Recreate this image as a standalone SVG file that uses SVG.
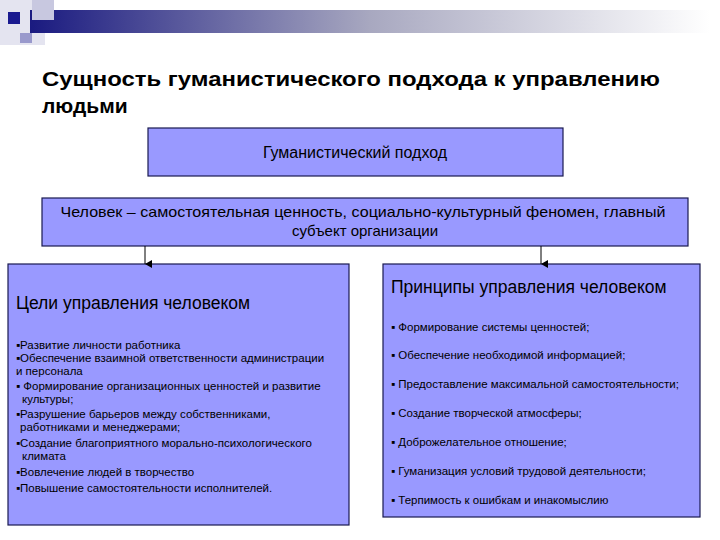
<svg xmlns="http://www.w3.org/2000/svg" width="720" height="540" viewBox="0 0 720 540">
<defs>
<linearGradient id="g" x1="0" x2="1"><stop offset="0" stop-color="#1a1a80"/><stop offset="0.5" stop-color="#a8a8c0"/><stop offset="1" stop-color="#ffffff"/></linearGradient>
<marker id="a" markerWidth="8" markerHeight="8" refX="4" refY="7" orient="auto-start-reverse" markerUnits="userSpaceOnUse"><path d="M0,0 L8,0 L4,7 z" fill="#000"/></marker>
<style>
text{font-family:"Liberation Sans",Arial,sans-serif;fill:#000}
.box{fill:#9999ff;stroke:#1a1a50;stroke-width:1.2}
.b{font-size:11.5px}
.h{font-size:17.5px}
</style>
</defs>
<rect width="720" height="540" fill="#fff"/>
<rect x="0" y="0" width="45" height="45" fill="#e4e4f0"/>
<rect x="30" y="10" width="680" height="23" fill="url(#g)"/>
<rect x="32" y="0" width="22" height="20" fill="#c8c8e0"/>
<rect x="20" y="33" width="12" height="10" fill="#9999cc"/>
<rect x="8" y="12" width="12" height="12" fill="#1a1a90"/>
<text x="42" y="86" font-size="21" font-weight="bold" textLength="618" lengthAdjust="spacingAndGlyphs">Сущность гуманистического подхода к управлению</text>
<text x="42" y="113" font-size="21" font-weight="bold">людьми</text>
<g id="n1"><rect class="box" x="148" y="128" width="415" height="48"/><text x="355" y="158" font-size="16" text-anchor="middle">Гуманистический подход</text></g>
<g id="n2"><rect class="box" x="42" y="198" width="646" height="48"/><text x="363" y="217" font-size="15" text-anchor="middle" textLength="605" lengthAdjust="spacingAndGlyphs">Человек – самостоятельная ценность, социально-культурный феномен, главный</text><text x="365" y="236" font-size="15" text-anchor="middle">субъект организации</text></g>
<g id="n3"><rect class="box" x="8" y="264" width="341" height="261"/>
<text x="16" y="309" class="h">Цели управления человеком</text>
<text class="b" x="16" y="349">▪Развитие личности работника</text>
<text class="b" x="16" y="362">▪Обеспечение взаимной ответственности администрации</text>
<text class="b" x="16" y="375"> и персонала</text>
<text class="b" x="16" y="390">▪ Формирование организационных ценностей и развитие</text>
<text class="b" x="22" y="403">культуры;</text>
<text class="b" x="16" y="418">▪Разрушение барьеров между собственниками,</text>
<text class="b" x="20" y="431">работниками  и менеджерами;</text>
<text class="b" x="16" y="447">▪Создание благоприятного морально-психологического</text>
<text class="b" x="22" y="460">климата</text>
<text class="b" x="16" y="476">▪Вовлечение людей в творчество</text>
<text class="b" x="16" y="492">▪Повышение самостоятельности исполнителей.</text>
</g>
<g id="n4"><rect class="box" x="383" y="264" width="317" height="253"/>
<text x="391" y="293" class="h">Принципы управления человеком</text>
<text class="b" x="391" y="331">▪ Формирование системы ценностей;</text>
<text class="b" x="391" y="359">▪ Обеспечение необходимой информацией;</text>
<text class="b" x="391" y="388">▪ Предоставление максимальной самостоятельности;</text>
<text class="b" x="391" y="417">▪ Создание творческой атмосферы;</text>
<text class="b" x="391" y="446">▪ Доброжелательное отношение;</text>
<text class="b" x="391" y="475">▪ Гуманизация условий трудовой деятельности;</text>
<text class="b" x="391" y="504">▪ Терпимость к ошибкам и инакомыслию</text>
</g>
<g id="connectors" stroke="#000" stroke-width="1">
<line x1="145" y1="246" x2="145" y2="264" marker-end="url(#a)"/>
<line x1="541" y1="246" x2="541" y2="264" marker-end="url(#a)"/>
</g>
</svg>
